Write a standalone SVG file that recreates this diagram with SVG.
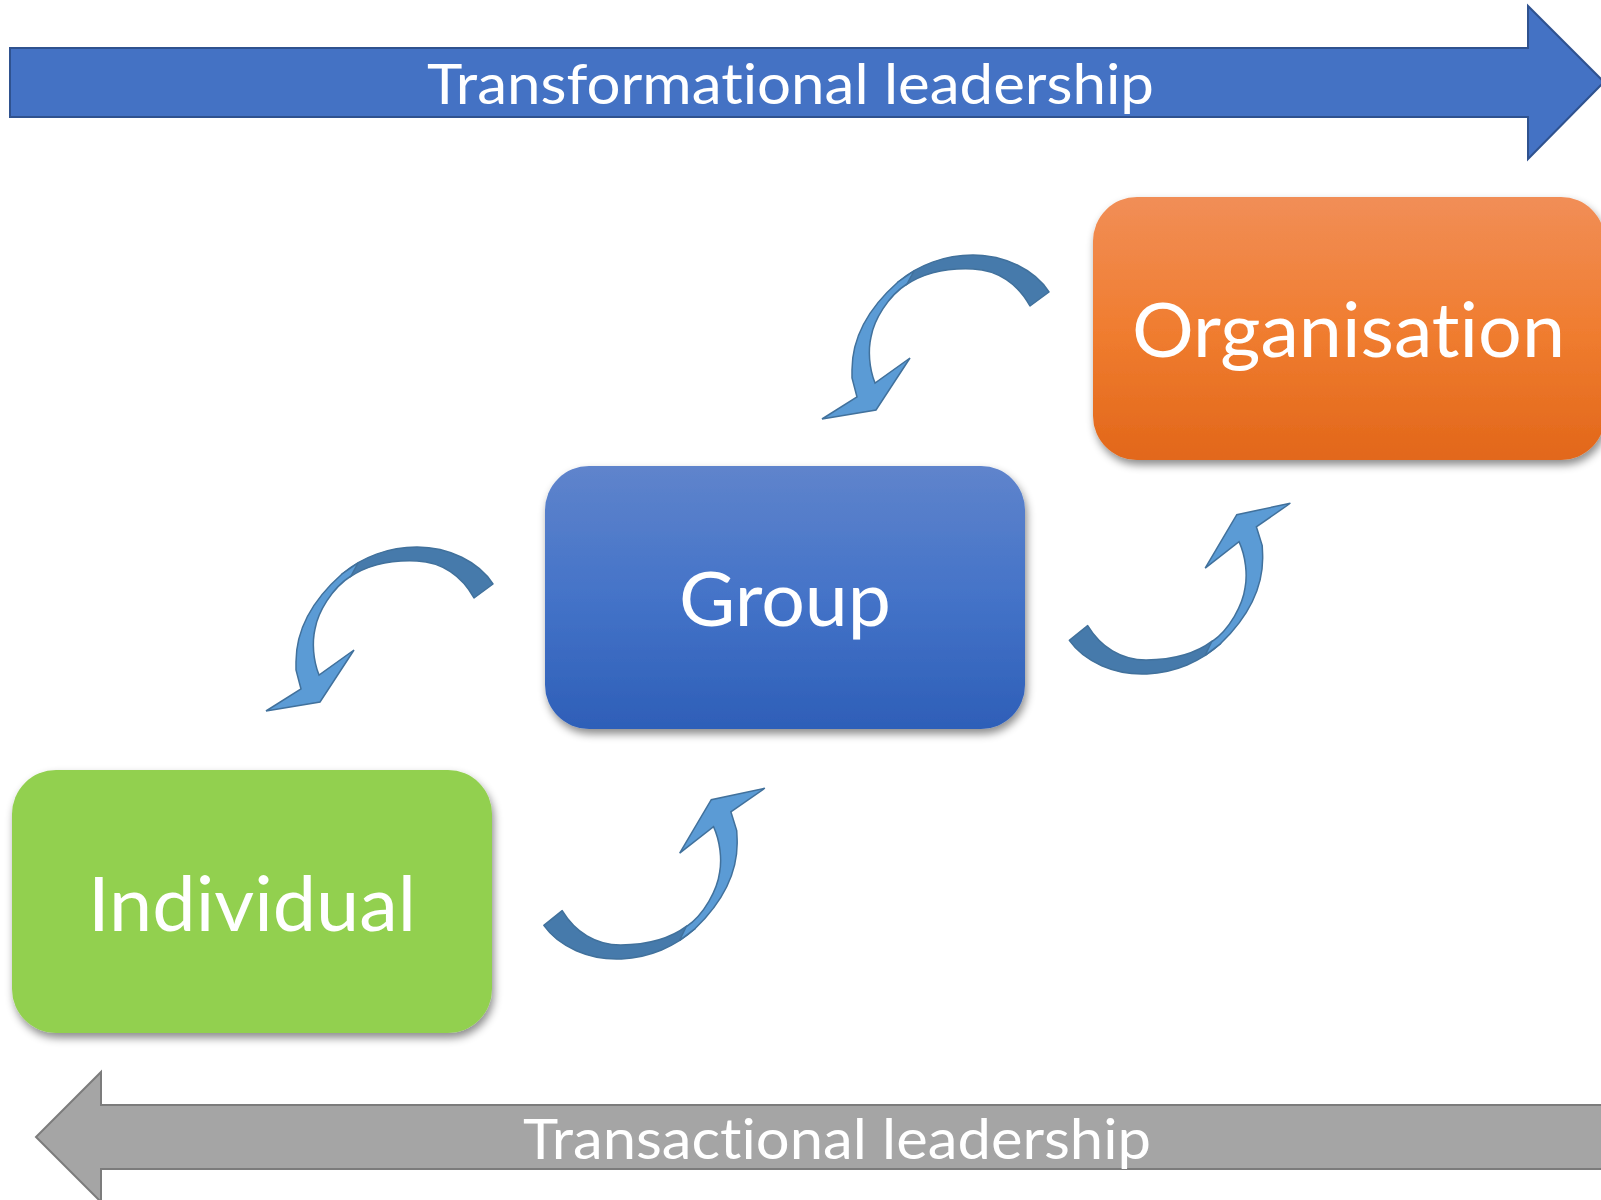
<svg xmlns="http://www.w3.org/2000/svg" xmlns:xlink="http://www.w3.org/1999/xlink" width="1601" height="1200" viewBox="0 0 1601 1200">
<style>
.lbl{font-family:Lato,"Open Sans","Liberation Sans",sans-serif;fill:#FFFFFF;text-anchor:middle;font-variant-ligatures:none;font-feature-settings:"liga" 0,"clig" 0,"dlig" 0}
.big{font-size:75px}
.ban{font-size:56px}
.back{fill:#467AAB;stroke:#41719C;stroke-width:1.5;stroke-linejoin:round}
.front{fill:#5B9BD5;stroke:#41719C;stroke-width:1.5;stroke-linejoin:miter}
</style>
<defs>
<linearGradient id="gOrange" x1="0" y1="0" x2="0" y2="1">
<stop offset="0" stop-color="#F18E57"/>
<stop offset="0.5" stop-color="#F07D30"/>
<stop offset="1" stop-color="#E2671A"/>
</linearGradient>
<linearGradient id="gBlue" x1="0" y1="0" x2="0" y2="1">
<stop offset="0" stop-color="#5F84CC"/>
<stop offset="0.5" stop-color="#4473C8"/>
<stop offset="1" stop-color="#2E5FB8"/>
</linearGradient>
<filter id="shadow" x="-10%" y="-10%" width="125%" height="130%">
<feDropShadow dx="2" dy="5" stdDeviation="4" flood-color="#000000" flood-opacity="0.45"/>
</filter>
<g id="curved">
<path class="back" d="M1049 292 C1035 270 1005 255 973 255 C945 255 918 265 898 282 L906 285 C925 272 950 268 973 269 C998 270 1018 284 1030 306 Z"/>
<path class="front" d="M914 271 L898 282 C872 305 852 335 852 370 L852 378 L857 397 L822 419 L876 410 L910 358 L875 383 C869 368 868 350 871 337 C874 320 888 296 907 284 Z"/>
</g>
</defs>

<g id="transformational-arrow">
<polygon points="10,48 1528,48 1528,6 1604,82 1528,159 1528,117 10,117" fill="#4472C4" stroke="#2F528F" stroke-width="2"/>
<text class="lbl ban" x="790.5" y="104" textLength="727" lengthAdjust="spacingAndGlyphs">Transformational leadership</text>
</g>

<g id="transactional-arrow">
<polygon points="1605,1105 101,1105 101,1072 36,1137 101,1202 101,1169 1605,1169" fill="#A5A5A5" stroke="#7C7C7C" stroke-width="2"/>
<text class="lbl ban" x="837" y="1159" textLength="628" lengthAdjust="spacingAndGlyphs">Transactional leadership</text>
</g>

<g id="node-organisation">
<rect x="1093" y="197" width="512" height="263" rx="44" ry="44" fill="url(#gOrange)" filter="url(#shadow)"/>
<text class="lbl big" x="1348.5" y="357" textLength="433" lengthAdjust="spacingAndGlyphs">Organisation</text>
</g>

<g id="node-group">
<rect x="545" y="466" width="480" height="263" rx="44" ry="44" fill="url(#gBlue)" filter="url(#shadow)"/>
<text class="lbl big" x="785" y="626" textLength="212" lengthAdjust="spacingAndGlyphs">Group</text>
</g>

<g id="node-individual">
<rect x="12" y="770" width="480" height="263" rx="44" ry="44" fill="#92D050" filter="url(#shadow)"/>
<text class="lbl big" x="252" y="931" textLength="328" lengthAdjust="spacingAndGlyphs">Individual</text>
</g>

<g id="connectors">
<use xlink:href="#curved" href="#curved"/>
<use xlink:href="#curved" href="#curved" transform="rotate(-2.6 1078.5 633) rotate(180 1059 466)"/>
<use xlink:href="#curved" href="#curved" transform="translate(-556 292)"/>
<use xlink:href="#curved" href="#curved" transform="translate(-525.5 285) rotate(-2.6 1078.5 633) rotate(180 1059 466)"/>
</g>
</svg>
